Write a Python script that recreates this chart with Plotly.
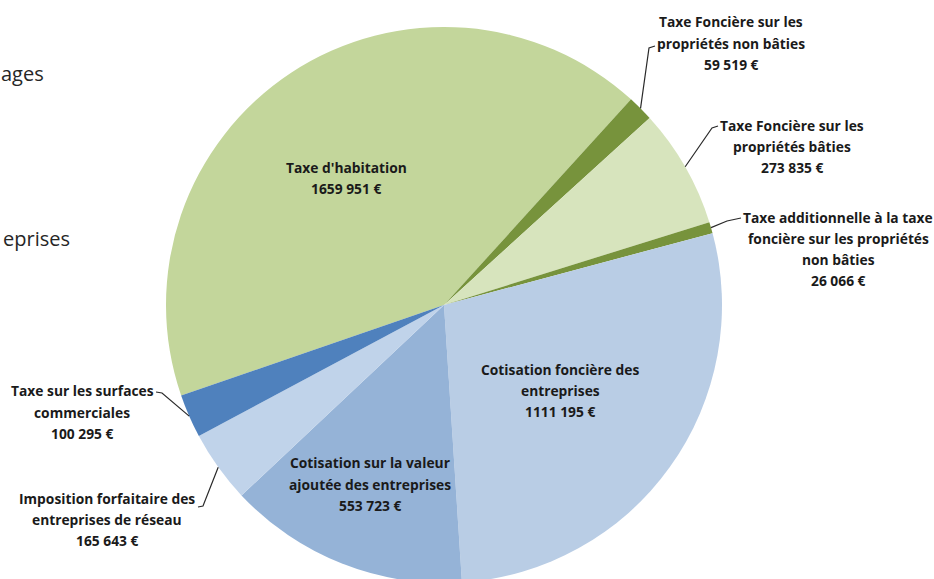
import math
import plotly.graph_objects as go

# ---------------- data ----------------
categories = [
    "Taxe d'habitation",
    "Taxe Foncière sur les propriétés non bâties",
    "Taxe Foncière sur les propriétés bâties",
    "Taxe additionnelle à la taxe foncière sur les propriétés non bâties",
    "Cotisation foncière des entreprises",
    "Cotisation sur la valeur ajoutée des entreprises",
    "Imposition forfaitaire des entreprises de réseau",
    "Taxe sur les surfaces commerciales",
]
values = [1659951, 59519, 273835, 26066, 1111195, 553723, 165643, 100295]
label_lines = [
    ["Taxe d'habitation"],
    ["Taxe Foncière sur les", "propriétés non bâties"],
    ["Taxe Foncière sur les", "propriétés bâties"],
    ["Taxe additionnelle à la taxe", "foncière sur les propriétés", "non bâties"],
    ["Cotisation foncière des", "entreprises"],
    ["Cotisation sur la valeur", "ajoutée des entreprises"],
    ["Imposition forfaitaire des", "entreprises de réseau"],
    ["Taxe sur les surfaces", "commerciales"],
]
side_texts = ["ages", "eprises"]

# ---------------- styles / layout ----------------
colors = ["#C3D69B", "#77933C", "#D7E4BD", "#77933C",
          "#B9CDE5", "#95B3D7", "#C0D3EA", "#4F81BD"]
W, H = 934, 600
CX, CY, R = 444, 305, 278
ROT = 251
LINE_H = 21.3
FONT = "Open Sans"
FSIZE = 13.8
TXT_COLOR = "#1A1A1A"

# text centre x and first-line y (pixels)
label_pos = [(346, 167), (731, 22), (792, 125), (838, 217),
             (560, 369), (370, 463), (107, 498), (82, 391)]
# leader line waypoints after the slice edge point (pixels)
leaders = {
    1: [(649, 48), (655, 46)],
    2: [(712, 128), (718, 126)],
    3: [(727, 221), (741, 218)],
    6: [(203, 506), (198, 507)],
    7: [(162, 393), (156, 392)],
}
side_pos = [(46, 73), (72, 238)]


def px(x):
    return x / W


def py(y):
    return 1 - y / H


def fmt(v):
    if v >= 1000:
        return f"{v // 1000} {v % 1000:03d} €"
    return f"{v} €"


fig = go.Figure(go.Pie(
    labels=categories,
    values=values,
    sort=False,
    direction="clockwise",
    rotation=ROT,
    marker=dict(colors=colors, line=dict(width=0)),
    textinfo="none",
    hoverinfo="label+value+percent",
    showlegend=False,
    domain=dict(x=[px(CX - R), px(CX + R)], y=[py(CY + R), py(CY - R)]),
))

annotations = []
for i, lines in enumerate(label_lines):
    xc, y0 = label_pos[i]
    all_lines = lines + [fmt(values[i])]
    for k, t in enumerate(all_lines):
        annotations.append(dict(
            x=px(xc), y=py(y0 + k * LINE_H), xref="paper", yref="paper",
            text=f"<b>{t}</b>", showarrow=False, xanchor="center", yanchor="middle",
            font=dict(family=FONT, size=FSIZE, color=TXT_COLOR),
        ))

for t, (xr, yc) in zip(side_texts, side_pos):
    annotations.append(dict(
        x=px(xr), y=py(yc), xref="paper", yref="paper", text=t, showarrow=False,
        xanchor="right", yanchor="middle",
        font=dict(family=FONT, size=20, color="#262626"),
    ))

total = sum(values)
shapes = []
cum = 0
for i, v in enumerate(values):
    mid = ROT + (cum + v / 2) / total * 360
    cum += v
    if i not in leaders:
        continue
    a = math.radians(mid)
    ex, ey = CX + R * math.sin(a), CY - R * math.cos(a)
    pts = [(ex, ey)] + leaders[i]
    path = "M " + " L ".join(f"{px(x):.5f},{py(y):.5f}" for x, y in pts)
    shapes.append(dict(type="path", path=path, xref="paper", yref="paper",
                       line=dict(color="#2A2A2A", width=1.2)))

fig.update_layout(
    width=W, height=H,
    margin=dict(l=0, r=0, t=0, b=0),
    paper_bgcolor="white", plot_bgcolor="white",
    annotations=annotations, shapes=shapes,
)

fig.write_html("out.html", config={"displayModeBar": False},
               post_script="document.body.style.margin='0';document.body.style.overflow='hidden';")
